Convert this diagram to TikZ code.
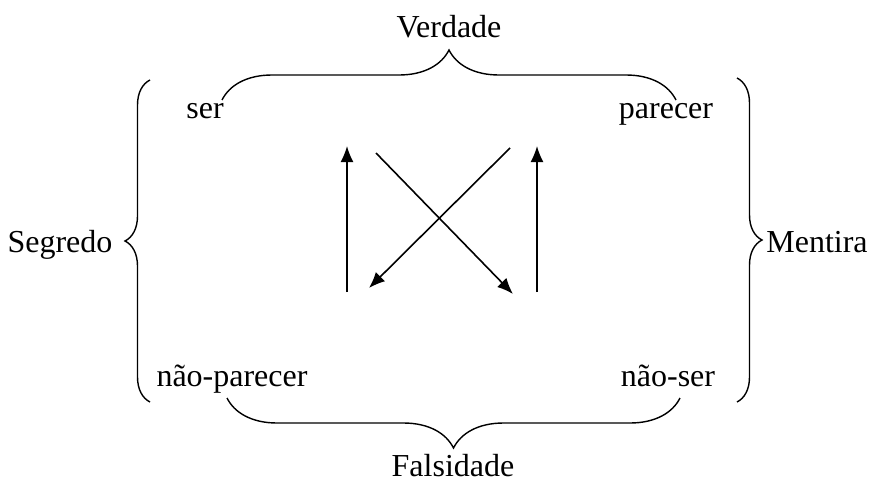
\documentclass[tikz,border=0pt]{standalone}
\usepackage{fontspec}
\setmainfont{Liberation Serif}
\usetikzlibrary{arrows.meta,decorations.pathreplacing}
\begin{document}
\begin{tikzpicture}[x=0.5pt, y=-0.5pt,
    termo/.style={font=\fontsize{16}{19}\selectfont, inner sep=0pt, anchor=base},
    chave/.style={decorate, line width=0.7pt, decoration={brace, amplitude=#1}},
    seta/.style={-{Latex[length=8pt,width=6.5pt]}, line width=0.8pt}]
    \useasboundingbox (0,0) rectangle (872,482);

    % ---- Termos do quadrado ----
    \node[termo] (ser) at (205,118) {ser};
    \node[termo] (parecer) at (666,118) {parecer};
    \node[termo] (naoparecer) at (232,386) {não-parecer};
    \node[termo] (naoser) at (668,386) {não-ser};

    % ---- Metatermos ----
    \node[termo] (verdade) at (449,37) {Verdade};
    \node[termo] (falsidade) at (453,476) {Falsidade};
    \node[termo] (segredo) at (60,252) {Segredo};
    \node[termo] (mentira) at (817,252) {Mentira};

    % Chaves
    \draw[chave=25pt] (222,100) -- (676,100);
    \draw[chave=25pt] (680,398) -- (227,398);
    \draw[chave=12.5pt] (150,402) -- (150,80);
    \draw[chave=12.5pt] (737,78) -- (737,402);

    % ---- Setas ----
    \coordinate (esq-a) at (347,292);
    \coordinate (esq-b) at (347,146);
    \coordinate (dir-a) at (537,292);
    \coordinate (dir-b) at (537,146);
    \coordinate (d1-a) at (376,153);
    \coordinate (d1-b) at (513,294);
    \coordinate (d2-a) at (510,148);
    \coordinate (d2-b) at (369,288);
    \draw[seta] (esq-a) -- (esq-b);
    \draw[seta] (dir-a) -- (dir-b);
    \draw[seta] (d1-a) -- (d1-b);
    \draw[seta] (d2-a) -- (d2-b);
\end{tikzpicture}
\end{document}
